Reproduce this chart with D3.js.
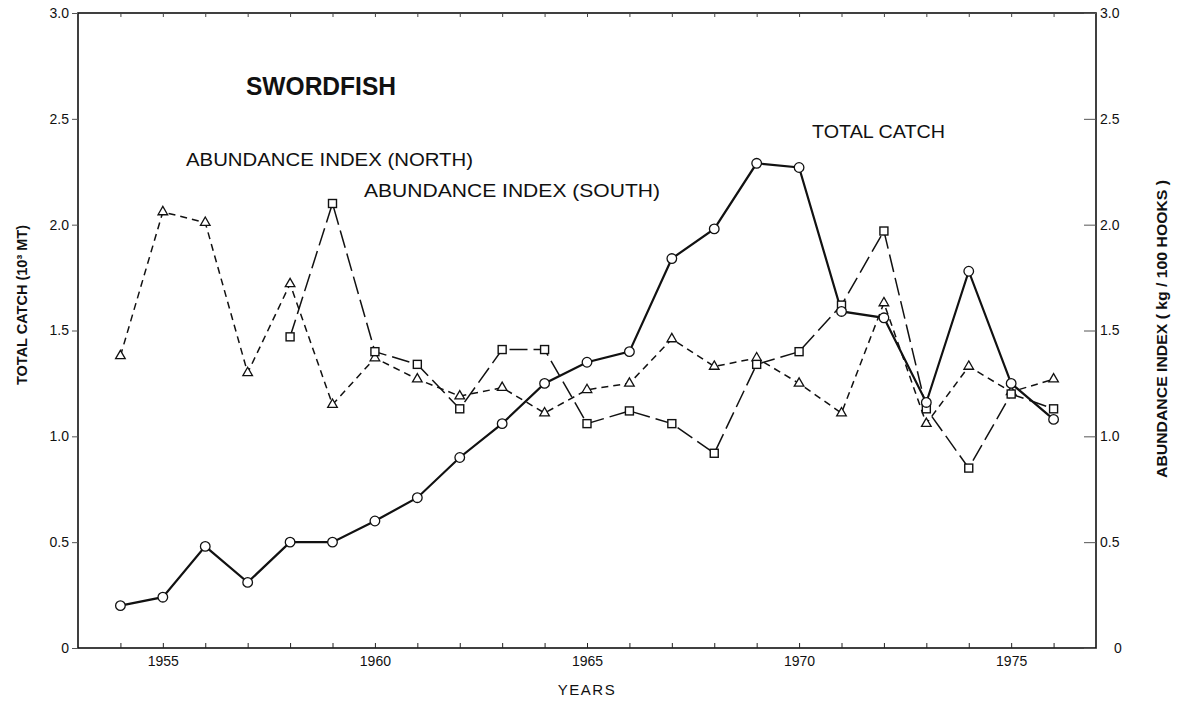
<!DOCTYPE html>
<html><head><meta charset="utf-8">
<script src="https://cdn.jsdelivr.net/npm/d3@7"></script>
<style>
body{margin:0;background:#fff;}
text{font-family:"Liberation Sans",Arial,sans-serif;fill:#111;}
</style></head>
<body><svg id="c" width="1179" height="702"></svg>
<script>
const years = d3.range(1954, 1977);
const totalCatch = [0.20,0.24,0.48,0.31,0.50,0.50,0.60,0.71,0.90,1.06,1.25,1.35,1.40,1.84,1.98,2.29,2.27,1.59,1.56,1.16,1.78,1.25,1.08];
const northIndex = [1.38,2.06,2.01,1.30,1.72,1.15,1.37,1.27,1.19,1.23,1.11,1.22,1.25,1.46,1.33,1.37,1.25,1.11,1.63,1.06,1.33,1.21,1.27];
const southYears = d3.range(1958, 1977);
const southIndex = [1.47,2.10,1.40,1.34,1.13,1.41,1.41,1.06,1.12,1.06,0.92,1.34,1.40,1.62,1.97,1.13,0.85,1.20,1.13];
const yTicks = [0,0.5,1.0,1.5,2.0,2.5,3.0];
const leftTickLabels = ["0","0.5","1.0","1.5","2.0","2.5","3.0"];
const rightTickLabels = ["0","0.5","1.0","1.5","2.0","2.5","3.0"];
const xLabelYears = [1955,1960,1965,1970,1975];

const svg = d3.select("#c");
const x = d3.scaleLinear().domain([1953,1977]).range([78,1096]);
const y = d3.scaleLinear().domain([0,3]).range([648,13]);

const g = svg.append("g");
g.append("rect").attr("x",x(1953)).attr("y",y(3)).attr("width",x(1977)-x(1953)).attr("height",y(0)-y(3))
  .attr("fill","none").attr("stroke","#111").attr("stroke-width",1.6);

// bottom axis
const xb = g.append("g").attr("transform",`translate(0,${y(0)})`)
  .call(d3.axisBottom(x).tickValues(years).tickSizeInner(-5).tickSizeOuter(0).tickFormat(""));
xb.select(".domain").remove();
xb.selectAll("line").attr("stroke","#222");
const xl = g.append("g").attr("transform",`translate(0,${y(0)})`)
  .call(d3.axisBottom(x).tickValues(xLabelYears).tickSize(0).tickPadding(8).tickFormat(d3.format("d")));
xl.select(".domain").remove();
xl.selectAll("text").attr("font-size",14).attr("fill","#222").attr("font-family","Liberation Sans, Arial, sans-serif");

// top ticks
const xt = g.append("g").attr("transform",`translate(0,${y(3)})`)
  .call(d3.axisTop(x).tickValues(years).tickSizeInner(-4).tickSizeOuter(0).tickFormat(""));
xt.select(".domain").remove();
xt.selectAll("line").attr("stroke","#444");

// left axis
const yl = g.append("g").attr("transform",`translate(${x(1953)},0)`)
  .call(d3.axisLeft(y).tickValues(yTicks).tickSize(6).tickPadding(3).tickFormat((d,i)=>leftTickLabels[i]));
yl.select(".domain").remove();
yl.selectAll("line").attr("stroke","#555");
yl.selectAll("text").attr("font-size",14).attr("fill","#333").attr("font-family","Liberation Sans, Arial, sans-serif");

// right axis
const yr = g.append("g").attr("transform",`translate(${x(1977)},0)`)
  .call(d3.axisRight(y).tickValues(yTicks).tickSize(-12).tickPadding(4).tickFormat((d,i)=>rightTickLabels[i]));
yr.select(".domain").remove();
yr.selectAll("line").attr("stroke","#555");
yr.selectAll("text").attr("font-size",14).attr("fill","#333").attr("font-family","Liberation Sans, Arial, sans-serif");
yr.selectAll(".tick").filter(d=>d===0).select("text").attr("x",18);

// axis titles
svg.append("text").attr("transform","translate(22,305) rotate(-90)").attr("text-anchor","middle").attr("dy","0.35em")
  .attr("font-size",14).attr("font-weight","bold").attr("textLength",160).attr("lengthAdjust","spacingAndGlyphs")
  .text("TOTAL CATCH (10³ MT)");
svg.append("text").attr("transform","translate(1162,329) rotate(-90)").attr("text-anchor","middle").attr("dy","0.35em")
  .attr("font-size",14).attr("font-weight","bold").attr("textLength",298).attr("lengthAdjust","spacingAndGlyphs")
  .text("ABUNDANCE INDEX ( kg / 100 HOOKS )");
svg.append("text").attr("x",587).attr("y",695).attr("text-anchor","middle")
  .attr("font-size",15).attr("letter-spacing",1.5).text("YEARS");

// annotations
svg.append("text").attr("x",246).attr("y",95).attr("font-size",26).attr("font-weight","bold")
  .attr("textLength",150).attr("lengthAdjust","spacingAndGlyphs").text("SWORDFISH");
svg.append("text").attr("x",186).attr("y",166).attr("font-size",19)
  .attr("textLength",287).attr("lengthAdjust","spacingAndGlyphs").text("ABUNDANCE INDEX (NORTH)");
svg.append("text").attr("x",364).attr("y",197).attr("font-size",19)
  .attr("textLength",296).attr("lengthAdjust","spacingAndGlyphs").text("ABUNDANCE INDEX (SOUTH)");
svg.append("text").attr("x",812).attr("y",138).attr("font-size",19)
  .attr("textLength",133).attr("lengthAdjust","spacingAndGlyphs").text("TOTAL CATCH");

const line = d3.line().x(d=>x(d[0])).y(d=>y(d[1]));
const totalData = years.map((yr,i)=>[yr,totalCatch[i]]);
const northData = years.map((yr,i)=>[yr,northIndex[i]]);
const southData = southYears.map((yr,i)=>[yr,southIndex[i]]);

svg.append("path").datum(northData).attr("d",line).attr("fill","none").attr("stroke","#111")
  .attr("stroke-width",1.5).attr("stroke-dasharray","7,5");
svg.append("path").datum(southData).attr("d",line).attr("fill","none").attr("stroke","#111")
  .attr("stroke-width",1.5).attr("stroke-dasharray","18,6");
svg.append("path").datum(totalData).attr("d",line).attr("fill","none").attr("stroke","#111")
  .attr("stroke-width",2.2);

svg.append("g").selectAll("path").data(northData).join("path")
  .attr("d",d3.symbol(d3.symbolTriangle,40)())
  .attr("transform",d=>`translate(${x(d[0])},${y(d[1])})`)
  .attr("fill","#fff").attr("stroke","#111").attr("stroke-width",1.3);
svg.append("g").selectAll("rect").data(southData).join("rect")
  .attr("x",d=>x(d[0])-4).attr("y",d=>y(d[1])-4).attr("width",8).attr("height",8)
  .attr("fill","#fff").attr("stroke","#111").attr("stroke-width",1.4);
svg.append("g").selectAll("circle").data(totalData).join("circle")
  .attr("cx",d=>x(d[0])).attr("cy",d=>y(d[1])).attr("r",4.8)
  .attr("fill","#fff").attr("stroke","#111").attr("stroke-width",1.3);
</script></body></html>
